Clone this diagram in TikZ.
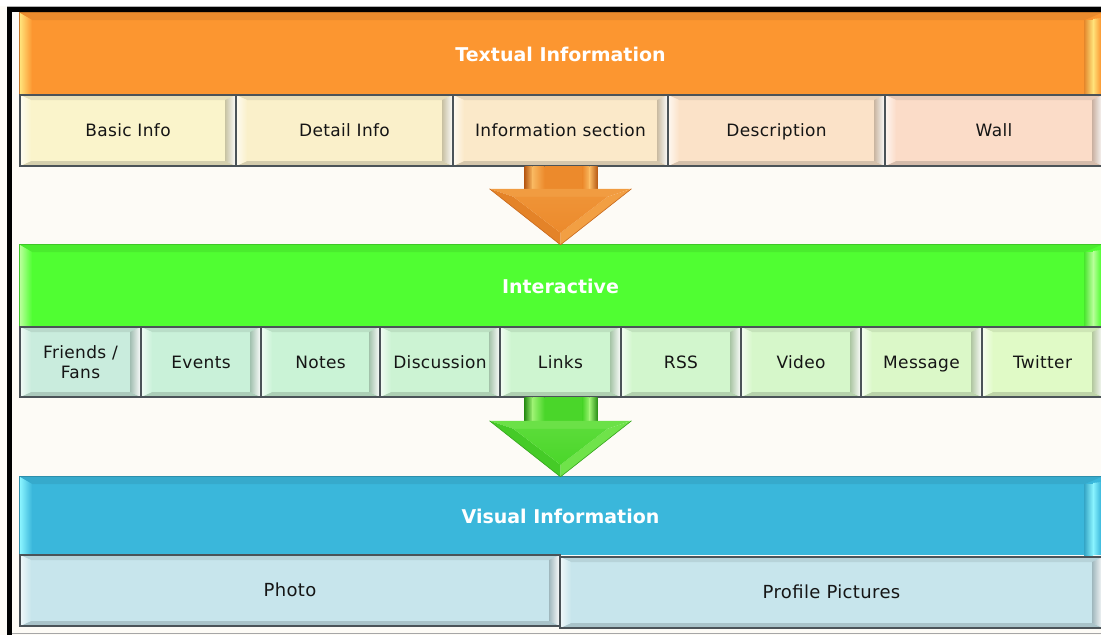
\documentclass[tikz,border=0pt]{standalone}
\usepackage{fontspec}
\setmainfont{DejaVu Sans}
\usetikzlibrary{calc}

% palette
\definecolor{bg}{HTML}{FDFBF6}
\definecolor{edge}{HTML}{4B5358}
\definecolor{ink}{HTML}{151515}
\definecolor{orangeband}{HTML}{FC9630}
\definecolor{orangehl}{HTML}{FFE27A}
\definecolor{greenband}{HTML}{50FE32}
\definecolor{greenhl}{HTML}{B8FF9A}
\definecolor{blueband}{HTML}{3AB7DB}
\definecolor{bluehl}{HTML}{8AF4FF}
\definecolor{tA}{HTML}{FAF4CB}
\definecolor{tB}{HTML}{FAF0CA}
\definecolor{tC}{HTML}{FBE9C9}
\definecolor{tD}{HTML}{FBE2C8}
\definecolor{tE}{HTML}{FBDCC8}
\definecolor{iA}{HTML}{C9ECDD}
\definecolor{iB}{HTML}{C9F1D9}
\definecolor{iC}{HTML}{CAF3D6}
\definecolor{iD}{HTML}{CCF3D3}
\definecolor{iE}{HTML}{CEF5D0}
\definecolor{iF}{HTML}{D2F6CD}
\definecolor{iG}{HTML}{D6F7CA}
\definecolor{iH}{HTML}{DBF8C8}
\definecolor{iI}{HTML}{E0FAC6}
\definecolor{vA}{HTML}{C7E5EC}
\definecolor{oMain}{HTML}{EC8A2C}
\definecolor{oLight}{HTML}{F9B860}
\definecolor{oDark}{HTML}{B85A14}
\definecolor{gMain}{HTML}{4AD62A}
\definecolor{gLight}{HTML}{9CF272}
\definecolor{gDark}{HTML}{2A8F16}

\newcommand\lblfont{\fontsize{17}{20}\selectfont\addfontfeature{LetterSpace=2}}
\newcommand\bigfont{\fontsize{18}{21}\selectfont\addfontfeature{LetterSpace=2}}
\newcommand\ttlfont{\fontsize{19}{22}\selectfont\bfseries}

\tikzset{
  boxline/.style={draw=edge, line width=1.8pt},
  lbl/.style={font=\lblfont, text=ink, align=center, inner sep=0pt,
              text height=12.4pt, text depth=0pt},
  ttl/.style={font=\ttlfont, text=white, inner sep=0pt},
}

% bevelled label box: [label options], name, left, top, right, bottom, fill, label
\newcommand\bevelbox[8][]{%
  \fill[#7] (#3,#4) rectangle (#5,#6);
  \fill[#7!92!black] (#3,#4) -- (#5,#4) -- ({#5-11},{#4+5}) -- ({#3+11},{#4+5}) -- cycle;
  \fill[#7!85!black] (#3,#6) -- (#5,#6) -- ({#5-11},{#6-5}) -- ({#3+11},{#6-5}) -- cycle;
  \shade[left color=#7!25!white, right color=#7] (#3,#4) -- ({#3+11},{#4+5}) -- ({#3+11},{#6-5}) -- (#3,#6) -- cycle;
  \shade[left color=#7!80!black, right color=white] (#5,#4) -- ({#5-11},{#4+5}) -- ({#5-11},{#6-5}) -- (#5,#6) -- cycle;
  \node[inner sep=0pt, minimum width={(#5-#3)*1pt}, minimum height={(#6-#4)*1pt}] (#2) at ({(#3+#5)/2},{(#4+#6)/2}) {};
  \node[lbl, #1] (#2-text) at (#2.center) {#8};
  \draw[boxline] (#2.north west) rectangle (#2.south east);
}

% coloured title band: name, top, bottom, colour, highlight, title
\newcommand\band[6]{%
  \fill[#4] (20,#2) rectangle (1101,#3);
  \fill[#4!93!black] (20,#2) -- (1101,#2) -- (1085,{#2+7}) -- (32,{#2+7}) -- cycle;
  \shade[left color=#5, right color=#4] (20,#2) -- (32,{#2+7}) -- (32,#3) -- (20,#3) -- cycle;
  \shade[left color=#4!90!black, right color=#5] (1084,{#2+7}) -- (1093,{#2+7}) -- (1093,#3) -- (1084,#3) -- cycle;
  \shade[left color=#5, right color=#4] (1093,{#2+6}) -- (1101,{#2+5}) -- (1101,#3) -- (1093,#3) -- cycle;
  \node[ttl, minimum width=1081pt, minimum height={(#3-#2)*1pt}] (#1) at (560.5,{(#2+#3)/2}) {#6};
  \draw[#4!78!black, line width=0.8pt] (#1.south west) -- (#1.north west) -- (#1.north east);
}

% block arrow from the bottom of one row to the top of the next band
\newcommand\blockarrow[5]{%
  \shade[left color=#5, right color=#4] ($(#1)+(-36,0)$) rectangle ($(#2)+(-28,-55)$);
  \shade[left color=#4, right color=#3] ($(#1)+(-28,0)$) rectangle ($(#2)+(-16,-55)$);
  \fill[#3] ($(#1)+(-16,0)$) rectangle ($(#2)+(22,-55)$);
  \shade[left color=#3, right color=#4] ($(#1)+(22,0)$) rectangle ($(#2)+(29,-55)$);
  \shade[left color=#4, right color=#5] ($(#1)+(29,0)$) rectangle ($(#2)+(37,-55)$);
  \fill[#3!60!#4] ($(#2)+(-71,-56)$) -- ($(#2)+(71,-56)$) -- ($(#2)+(47,-48)$) -- ($(#2)+(-47,-48)$) -- cycle;
  \fill[#3!85!#5] ($(#2)+(-71,-56)$) -- ($(#2)+(-47,-48)$) -- ($(#2)+(0,-12)$) -- (#2) -- cycle;
  \fill[#3!55!#4] ($(#2)+(71,-56)$) -- ($(#2)+(47,-48)$) -- ($(#2)+(0,-12)$) -- (#2) -- cycle;
  \shade[top color=#3!80!#4, bottom color=#3] ($(#2)+(-47,-48)$) -- ($(#2)+(47,-48)$) -- ($(#2)+(0,-12)$) -- cycle;
  \draw[#5!70!#3, line width=0.6pt] ($(#2)+(-71,-56)$) -- (#2) -- ($(#2)+(71,-56)$);
}

\begin{document}
\begin{tikzpicture}[x=1pt, y=-1pt]
  \useasboundingbox (0,0) rectangle (1101,635);
  % page and frame
  \fill[bg] (0,0) rectangle (1101,635);
  \fill[white] (0,0) rectangle (1101,6);
  \draw[gray!60, line width=1pt] (7,6.5) -- (1101,6.5);
  \fill[black] (7,7) rectangle (1101,12);
  \fill[black] (7,7) rectangle (12,635);
  \draw[gray!70, line width=1pt] (12,633) -- (1101,633);

  % textual information
  \band{txt}{13}{95}{orangeband}{orangehl}{Textual Information}
  \bevelbox{basic}{20}{95}{236}{166}{tA}{Basic Info}
  \bevelbox{detail}{236}{95}{453}{166}{tB}{Detail Info}
  \bevelbox{section}{453}{95}{668}{166}{tC}{Information section}
  \bevelbox{descr}{668}{95}{885}{166}{tD}{Description}
  \bevelbox{wall}{885}{95}{1103}{166}{tE}{Wall}

  % interactive
  \band{inter}{245}{327}{greenband}{greenhl}{Interactive}
  \bevelbox[text height=, text depth=]{friends}{20}{327}{141}{397}{iA}{Friends /\\Fans}
  \bevelbox{events}{141}{327}{261}{397}{iB}{Events}
  \bevelbox{notes}{261}{327}{380}{397}{iC}{Notes}
  \bevelbox{discuss}{380}{327}{500}{397}{iD}{Discussion}
  \bevelbox{links}{500}{327}{621}{397}{iE}{Links}
  \bevelbox{rss}{621}{327}{741}{397}{iF}{RSS}
  \bevelbox{video}{741}{327}{861}{397}{iG}{Video}
  \bevelbox{message}{861}{327}{982}{397}{iH}{Message}
  \bevelbox{twitter}{982}{327}{1103}{397}{iI}{Twitter}

  % visual information
  \band{vis}{477}{555}{blueband}{bluehl}{Visual Information}
  \bevelbox[font=\bigfont]{photo}{20}{555}{560}{626}{vA}{Photo}
  \bevelbox[font=\bigfont]{profile}{560}{557}{1103}{628}{vA}{Profile Pictures}

  % flow between the bands
  \coordinate (a1from) at (section.south);
  \coordinate (a2from) at (links.south);
  \blockarrow{a1from}{inter.north}{oMain}{oLight}{oDark}
  \blockarrow{a2from}{vis.north}{gMain}{gLight}{gDark}
\end{tikzpicture}
\end{document}
